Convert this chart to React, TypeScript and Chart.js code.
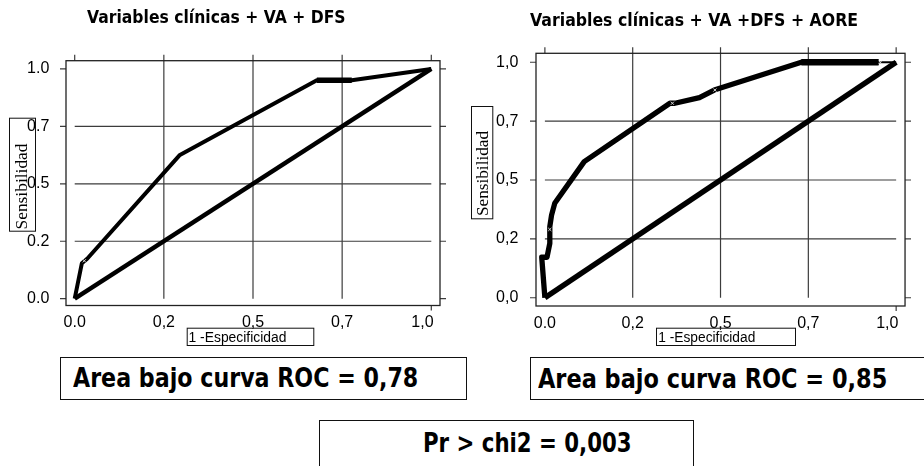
import React, { useEffect, useLayoutEffect, useRef } from "react";
import { Chart, registerables } from "chart.js";

Chart.register(...registerables);

// ---------- data ----------
const TICK_VALUES = [0, 0.25, 0.5, 0.75, 1];
const BOTTOM_TICK_VALUES = [1];
const LEFT_Y_TICK_LABELS = ["0.0", "0.2", "0.5", "0.7", "1.0"];
const RIGHT_Y_TICK_LABELS = ["0,0", "0,2", "0,5", "0,7", "1,0"];
const X_TICK_LABELS = ["0.0", "0,2", "0,5", "0,7", "1,0"];

const DIAG_X = [0, 1];
const DIAG_Y = [0, 1];

const LEFT_ROC_X = [0, 0.02, 0.035, 0.295, 0.679, 0.777, 1];
const LEFT_ROC_Y = [0, 0.154, 0.174, 0.626, 0.951, 0.951, 1];
const LEFT_TIES_X = [0.679, 0.777];
const LEFT_TIES_Y = [0.951, 0.951];
const LEFT_MARK_X = [0.027];
const LEFT_MARK_Y = [0.165];

const RIGHT_ROC_X = [0, -0.009, 0.006, 0.014, 0.014, 0.019, 0.028, 0.112, 0.356, 0.37, 0.44, 0.482, 0.73, 0.95];
const RIGHT_ROC_Y = [0, 0.172, 0.172, 0.231, 0.302, 0.351, 0.401, 0.578, 0.826, 0.826, 0.85, 0.882, 1, 1];
const RIGHT_TIES_X = [0.73, 0.95];
const RIGHT_TIES_Y = [1, 1];
const RIGHT_TAIL_X = [0.95, 1];
const RIGHT_TAIL_Y = [1, 1];
const RIGHT_MARK_X = [0.014, 0.363, 0.484, 0.955];
const RIGHT_MARK_Y = [0.29, 0.826, 0.882, 1];

const LEFT_TITLE = "Variables clínicas + VA + DFS";
const RIGHT_TITLE = "Variables clínicas + VA +DFS + AORE";
const Y_TITLE = "Sensibilidad";
const X_TITLE = "1 -Especificidad";
const AUC_LEFT = "Area bajo curva ROC = 0,78";
const AUC_RIGHT = "Area bajo curva ROC = 0,85";
const CHI_TEXT = "Pr > chi2 = 0,003";

// ---------- helpers ----------
const pts = (xs: number[], ys: number[]) => xs.map((x, i) => ({ x, y: ys[i] }));

const frameGridPlugin = {
  id: "frameGrid",
  beforeDatasetsDraw(chart: any) {
    const { ctx, chartArea: a, scales } = chart;
    const x = scales.x;
    const y = scales.y;
    const x0 = x.getPixelForValue(0);
    const x1 = x.getPixelForValue(1);
    const y0 = y.getPixelForValue(0);
    ctx.save();
    ctx.strokeStyle = "#3c3c3c";
    ctx.lineWidth = 1.2;
    ctx.beginPath();
    for (const v of TICK_VALUES) {
      const px = x.getPixelForValue(v);
      const py = y.getPixelForValue(v);
      ctx.moveTo(px, a.top - 6);
      ctx.lineTo(px, a.top);
      ctx.moveTo(a.left - 6, py);
      ctx.lineTo(a.left, py);
      ctx.moveTo(a.right, py);
      ctx.lineTo(a.right + 6, py);
      if (v > 0 && v < 1) {
        ctx.moveTo(px, a.top);
        ctx.lineTo(px, y0);
        ctx.moveTo(x0, py);
        ctx.lineTo(x1, py);
      }
    }
    for (const v of BOTTOM_TICK_VALUES) {
      const px = x.getPixelForValue(v);
      ctx.moveTo(px, a.bottom);
      ctx.lineTo(px, a.bottom + 5);
    }
    ctx.stroke();
    ctx.strokeStyle = "#222";
    ctx.lineWidth = 1.3;
    ctx.strokeRect(a.left, a.top, a.right - a.left, a.bottom - a.top);
    ctx.restore();
  },
  afterDraw(chart: any, _args: any, o: any) {
    const ctx = chart.ctx;
    const yt = o.yTitle;
    const xt = o.xTitle;
    ctx.save();
    ctx.strokeStyle = "#111";
    ctx.lineWidth = 1;
    ctx.fillStyle = "#000";
    // y title box
    ctx.strokeRect(yt.x0 + 0.5, yt.y0 + 0.5, yt.x1 - yt.x0, yt.y1 - yt.y0);
    ctx.save();
    ctx.font = '17px "Liberation Serif", "Times New Roman", serif';
    const yw = ctx.measureText(Y_TITLE).width;
    ctx.translate(yt.cx, yt.bottom);
    ctx.rotate(-Math.PI / 2);
    ctx.scale(yt.len / yw, 1);
    ctx.textAlign = "left";
    ctx.textBaseline = "middle";
    ctx.fillText(Y_TITLE, 0, 0);
    ctx.restore();
    // x title box
    ctx.strokeRect(xt.x0 + 0.5, xt.y0 + 0.5, xt.x1 - xt.x0, xt.y1 - xt.y0);
    ctx.save();
    ctx.font = '14px "Liberation Sans", Arial, sans-serif';
    const xw = ctx.measureText(X_TITLE).width;
    ctx.translate(xt.tx, xt.baseline);
    ctx.scale(xt.len / xw, 1);
    ctx.textAlign = "left";
    ctx.textBaseline = "alphabetic";
    ctx.fillText(X_TITLE, 0, 0);
    ctx.restore();
    ctx.restore();
  },
};

type PanelCfg = {
  left: number;
  width: number;
  height: number;
  yLabels: string[];
  xMin: number;
  xMax: number;
  yMin: number;
  yMax: number;
  padTop: number;
  padRight: number;
  yAxisWidth: number;
  xAxisHeight: number;
  yTickPad: number;
  datasets: any[];
  yTitle: any;
  xTitle: any;
};

function Panel({ cfg }: { cfg: PanelCfg }) {
  const ref = useRef<HTMLCanvasElement>(null);
  useEffect(() => {
    if (!ref.current) return;
    const tickFont = { family: '"Liberation Sans", Arial, sans-serif', size: 16 };
    const chart = new Chart(ref.current, {
      type: "line",
      data: { datasets: cfg.datasets },
      plugins: [frameGridPlugin as any],
      options: {
        animation: false,
        responsive: false,
        devicePixelRatio: 1,
        layout: { padding: { top: cfg.padTop, right: cfg.padRight, left: 0, bottom: 0 } },
        plugins: {
          legend: { display: false },
          tooltip: { enabled: false },
          title: { display: false },
          frameGrid: { yTitle: cfg.yTitle, xTitle: cfg.xTitle },
        } as any,
        scales: {
          x: {
            type: "linear",
            min: cfg.xMin,
            max: cfg.xMax,
            afterBuildTicks: (s: any) => {
              s.ticks = TICK_VALUES.map((v) => ({ value: v }));
            },
            afterFit: (s: any) => {
              s.height = cfg.xAxisHeight;
            },
            grid: { display: false, drawTicks: false },
            border: { display: false },
            ticks: {
              autoSkip: false,
              maxRotation: 0,
              padding: 7.5,
              color: "#000",
              font: tickFont,
              callback: (_v: any, i: number) =>
                X_TICK_LABELS[i] + (i === X_TICK_LABELS.length - 1 ? "    " : ""),
            },
          },
          y: {
            type: "linear",
            min: cfg.yMin,
            max: cfg.yMax,
            afterBuildTicks: (s: any) => {
              s.ticks = TICK_VALUES.map((v) => ({ value: v }));
            },
            afterFit: (s: any) => {
              s.width = cfg.yAxisWidth;
            },
            grid: { display: false, drawTicks: false },
            border: { display: false },
            ticks: {
              autoSkip: false,
              padding: cfg.yTickPad,
              color: "#000",
              font: tickFont,
              callback: (_v: any, i: number) => cfg.yLabels[i],
            },
          },
        },
      } as any,
    });
    return () => chart.destroy();
  }, [cfg]);
  return (
    <canvas
      ref={ref}
      width={cfg.width}
      height={cfg.height}
      style={{ position: "absolute", left: cfg.left, top: 0, width: cfg.width, height: cfg.height }}
    />
  );
}

function lineDs(xs: number[], ys: number[], width: number, order: number, color = "#000") {
  return {
    data: pts(xs, ys),
    borderColor: color,
    backgroundColor: color,
    borderWidth: width,
    pointRadius: 0,
    tension: 0,
    fill: false,
    borderJoinStyle: "round",
    borderCapStyle: "butt",
    order,
  };
}

function markDs(xs: number[], ys: number[]) {
  return {
    data: pts(xs, ys),
    showLine: false,
    pointStyle: "crossRot",
    pointRadius: 2.2,
    pointBorderWidth: 1,
    pointBorderColor: "#d8d8d8",
    pointBackgroundColor: "#d8d8d8",
    order: 0,
  };
}

const LEFT_CFG: PanelCfg = {
  left: 0,
  width: 460,
  height: 350,
  yLabels: LEFT_Y_TICK_LABELS,
  xMin: -0.0244,
  xMax: 1.0244,
  yMin: -0.0296,
  yMax: 1.036,
  padTop: 60.7,
  padRight: 20,
  yAxisWidth: 66,
  xAxisHeight: 44.5,
  yTickPad: 16.7,
  datasets: [
    markDs(LEFT_MARK_X, LEFT_MARK_Y),
    lineDs(LEFT_TIES_X, LEFT_TIES_Y, 5.5, 1),
    lineDs(LEFT_ROC_X, LEFT_ROC_Y, 4, 2),
    lineDs(DIAG_X, DIAG_Y, 4.5, 3),
  ],
  yTitle: { x0: 9, x1: 35, y0: 117.7, y1: 230.7, cx: 23, bottom: 229.5, len: 86 },
  xTitle: { x0: 186.7, x1: 313.3, y0: 327.7, y1: 345, tx: 188.5, baseline: 341.7, len: 98 },
};

const RIGHT_CFG: PanelCfg = {
  left: 460,
  width: 464,
  height: 350,
  yLabels: RIGHT_Y_TICK_LABELS,
  xMin: -0.0253,
  xMax: 1.0253,
  yMin: -0.035,
  yMax: 1.038,
  padTop: 53.3,
  padRight: 14,
  yAxisWidth: 76,
  xAxisHeight: 44,
  yTickPad: 17.7,
  datasets: [
    markDs(RIGHT_MARK_X, RIGHT_MARK_Y),
    lineDs(RIGHT_TIES_X, RIGHT_TIES_Y, 6.5, 1),
    lineDs(RIGHT_TAIL_X, RIGHT_TAIL_Y, 2, 2),
    lineDs(RIGHT_ROC_X, RIGHT_ROC_Y, 5.3, 3),
    lineDs(DIAG_X, DIAG_Y, 5.5, 4),
  ],
  yTitle: { x0: 11, x1: 32.3, y0: 106, y1: 218.3, cx: 23.3, bottom: 216, len: 85 },
  xTitle: { x0: 196, x1: 335, y0: 327.7, y1: 345, tx: 198.3, baseline: 341.7, len: 97 },
};

function FitText({ text, left, top, width, size }: { text: string; left: number; top: number; width: number; size: number }) {
  const ref = useRef<HTMLSpanElement>(null);
  useLayoutEffect(() => {
    const el = ref.current;
    if (!el) return;
    el.style.transform = "none";
    const w = el.offsetWidth;
    if (w > 0) el.style.transform = `scaleX(${width / w})`;
  }, [text, width, size]);
  return (
    <span
      ref={ref}
      style={{
        position: "absolute",
        left,
        top,
        fontFamily: '"DejaVu Sans", Verdana, sans-serif',
        fontWeight: 700,
        fontSize: size,
        lineHeight: `${size}px`,
        whiteSpace: "nowrap",
        transformOrigin: "0 0",
        color: "#000",
      }}
    >
      {text}
    </span>
  );
}

function Box({ left, top, width, height }: { left: number; top: number; width: number; height: number }) {
  return (
    <div
      style={{
        position: "absolute",
        left,
        top,
        width,
        height,
        boxSizing: "border-box",
        border: "1px solid #111",
      }}
    />
  );
}

export default function App() {
  useEffect(() => {
    document.body.style.margin = "0";
  }, []);
  return (
    <div style={{ position: "relative", width: 924, height: 466, overflow: "hidden", background: "#fff" }}>
      <Panel cfg={LEFT_CFG} />
      <Panel cfg={RIGHT_CFG} />
      <FitText text={LEFT_TITLE} left={87} top={8.9} width={259} size={17} />
      <FitText text={RIGHT_TITLE} left={530} top={11.6} width={328} size={17} />
      <Box left={60} top={356.7} width={407} height={43} />
      <FitText text={AUC_LEFT} left={73} top={364.1} width={345} size={27.4} />
      <Box left={530} top={357.3} width={400} height={43} />
      <FitText text={AUC_RIGHT} left={538} top={365.1} width={349} size={27.4} />
      <Box left={319.3} top={420} width={375} height={60} />
      <FitText text={CHI_TEXT} left={422.7} top={428.5} width={208.3} size={27.4} />
    </div>
  );
}
